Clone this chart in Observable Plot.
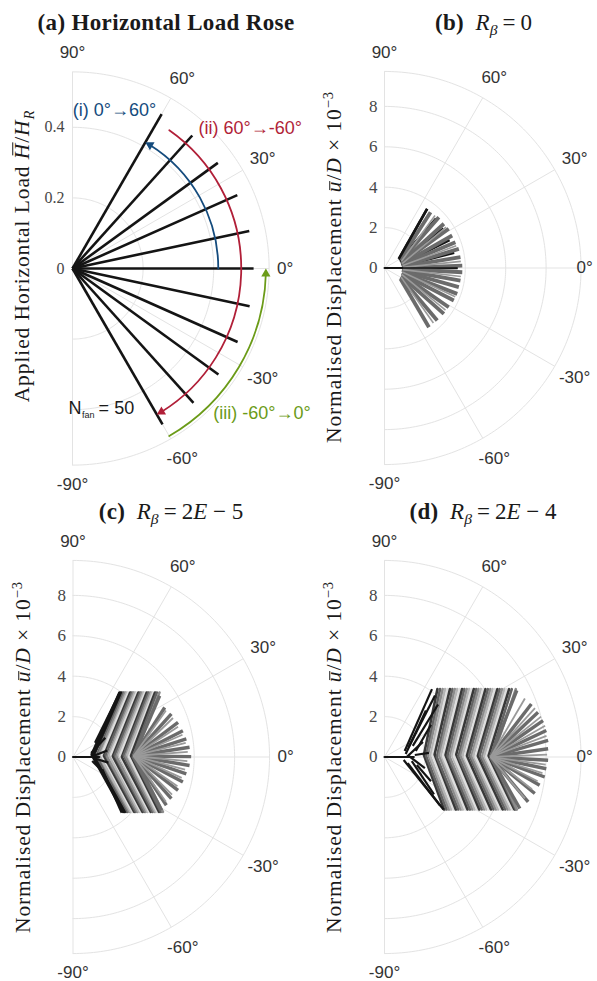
<!DOCTYPE html>
<html>
<head>
<meta charset="utf-8">
<script src="https://cdn.jsdelivr.net/npm/d3@7"></script>
<script src="https://cdn.jsdelivr.net/npm/@observablehq/plot@0.6"></script>
<style>
  html, body { margin: 0; padding: 0; background: #fff; }
  #page { position: relative; width: 597px; height: 981px; overflow: hidden; background: #fff; }
  .panel { position: absolute; }
  .panel svg { overflow: visible; background: transparent; }
  .title { position: absolute; font-family: "Liberation Serif", serif; font-size: 23px; line-height: 1; white-space: nowrap; transform: translateX(-50%); color: #1a1a1a; }
  .title b { letter-spacing: 0.35px; }
  .eq { margin: 0 0.22em; }
  .ylab { position: absolute; font-family: "Liberation Serif", serif; font-size: 21.5px; line-height: 1; white-space: nowrap; color: #1a1a1a; letter-spacing: 0.9px; transform: translate(-50%, -50%) rotate(-90deg); }
  sub { font-size: 0.68em; vertical-align: -0.32em; line-height: 0; }
  sup { font-size: 0.68em; vertical-align: 0.55em; line-height: 0; }
  .ovH, .ovU { position: relative; }
  .ovH::before { content: ""; position: absolute; left: 0.2em; right: -0.04em; top: 0.1em; border-top: 1.3px solid currentColor; }
  .ovU::before { content: ""; position: absolute; left: 0.1em; right: 0.02em; top: 0.33em; border-top: 1.3px solid currentColor; }
</style>
</head>
<body>
<div id="page"></div>
<script>
// ================= DATA =================
const angleTicks = [90, 60, 30, 0, -30, -60, -90];

// (a) Horizontal load rose
const loadAngle = [60, 48, 36, 24, 12, 0, -12, -24, -36, -48, -60];
const loadMag = [0.505, 0.507, 0.509, 0.511, 0.512, 0.513, 0.513, 0.512, 0.511, 0.512, 0.51];
const ticksA = [0, 0.2, 0.4];
const rMaxA = 0.557;
const sweepText = ["(i) 0°→60°", "(ii) 60°→-60°", "(iii) -60°→0°"];
const sweepStart = [0, 55, -60];
const sweepEnd = [60, -60, 0];
const sweepRadius = [0.413, 0.478, 0.548];
const nFan = 50;

// displacement roses (b)-(d), units of 1e-3
const ticksU = [0, 2, 4, 6, 8];
const rMaxU = 9.73;

// (b) R_beta = 0
const bInitX = [0, 0.88];
const bInitY = [0, 0];
const bFirstBaseX = [0.88, 0.86, 0.82, 0.78, 0.74, 0.71];
const bFirstBaseY = [0.0, 0.1, 0.2, 0.3, 0.38, 0.45];
const bFirstTipX = [3.62, 3.45, 3.22, 2.92, 2.55, 2.11];
const bFirstTipY = [0.0, 0.75, 1.38, 1.95, 2.45, 2.93];
const bBaseX = [0.78, 0.82, 0.86, 0.84, 0.88, 0.85, 0.9, 0.86, 0.88, 0.9, 0.86, 0.9, 0.87, 0.85, 0.88, 0.83, 0.81, 0.79];
const bBaseY = [0.42, 0.36, 0.3, 0.25, 0.2, 0.15, 0.1, 0.05, 0.0, -0.05, -0.1, -0.16, -0.22, -0.28, -0.34, -0.4, -0.47, -0.53];
const bTipX = [2.28, 2.69, 2.94, 3.18, 3.35, 3.51, 3.68, 3.76, 3.85, 3.85, 3.76, 3.68, 3.6, 3.43, 3.18, 2.94, 2.61, 2.2];
const bTipY = [2.76, 2.51, 2.19, 1.94, 1.61, 1.28, 0.95, 0.54, 0.12, -0.21, -0.62, -0.95, -1.28, -1.61, -1.94, -2.27, -2.6, -2.93];
const bLightBaseX = [0.84, 0.87, 0.9, 0.92, 0.9, 0.88, 0.85, 0.82];
const bLightBaseY = [0.33, 0.22, 0.12, 0.03, -0.08, -0.2, -0.32, -0.45];
const bLightTipX = [2.5, 3.05, 3.55, 3.78, 3.78, 3.5, 3.02, 2.42];
const bLightTipY = [2.6, 2.02, 1.1, 0.33, -0.42, -1.42, -2.08, -2.72];

// (c) R_beta = 2E-5
const cInitX = [0, 1.3];
const cInitY = [0, 0];
const cEarly = [[0.9, 0.2, 1.6, 0.95], [0.95, -0.2, 1.5, -0.75], [1.0, 0.05, 1.7, 0.32], [1.0, -0.05, 1.75, -0.28], [1.09, 0.71, 2.32, 3.19], [1.45, -0.61, 2.41, -2.76]];
const cTopY = 3.19;
const cBotY = -2.72;
const cChevMidX = [0.92, 1.0, 1.07, 1.17, 1.26, 1.34, 1.43, 1.53, 1.61, 1.7, 1.79, 1.89, 1.97, 2.06, 2.15, 2.25, 2.33, 2.42, 2.51, 2.6, 2.69, 2.78, 2.87, 2.96, 3.05];
const cChevMidY = [0.12, 0.08, 0.15, 0.05, 0.1, 0.02, 0.12, 0.06, 0.1, 0.0, 0.08, 0.12, 0.04, 0.09, 0.02, 0.1, 0.06, 0.0, 0.08, 0.04, 0.1, 0.02, 0.06, 0.0, 0.05];
const cChevTopX = [2.3, 2.36, 2.43, 2.5, 2.58, 2.66, 2.74, 2.83, 2.91, 2.99, 3.07, 3.16, 3.24, 3.32, 3.4, 3.49, 3.57, 3.65, 3.73, 3.82, 3.9, 3.98, 4.06, 4.15, 4.28];
const cChevBotX = [2.48, 2.55, 2.62, 2.7, 2.78, 2.86, 2.94, 3.03, 3.11, 3.19, 3.27, 3.36, 3.44, 3.52, 3.6, 3.69, 3.77, 3.85, 3.93, 4.02, 4.1, 4.18, 4.26, 4.35, 4.45];
const cBase = [3.0, 0.05];
const cTipX = [4.29, 4.54, 4.87, 5.2, 5.44, 5.61, 5.77, 5.85, 5.77, 5.61, 5.44, 5.2, 4.87, 4.62, 4.38];
const cTipY = [3.03, 2.45, 2.13, 1.71, 1.3, 0.9, 0.48, 0.02, -0.42, -0.83, -1.24, -1.65, -2.06, -2.39, -2.64];
const cLightTipX = [4.6, 4.95, 5.2, 5.42, 5.58, 5.68, 5.66, 5.55, 5.38, 5.17, 4.9, 4.6];
const cLightTipY = [2.3, 1.93, 1.5, 1.1, 0.7, 0.25, -0.2, -0.62, -1.03, -1.45, -1.86, -2.22];

// (d) R_beta = 2E-4
const dInitX = [0, 1.45];
const dInitY = [0, 0];
const dEarly = [[1.0, 0.3, 2.35, 3.36], [1.2, 0.5, 2.5, 3.05], [1.05, 0.15, 2.05, 2.3], [1.4, 0.55, 2.65, 2.6], [1.55, 0.3, 2.3, 1.6], [0.95, -0.15, 2.92, -2.6], [1.15, -0.3, 2.75, -2.4], [1.35, -0.2, 2.45, -1.85], [1.6, -0.4, 2.3, -1.2], [1.1, 0.0, 1.9, 0.75], [1.2, 0.05, 2.0, -0.55], [1.5, 0.1, 2.2, 0.2]];
const dTopY = 3.36;
const dBotY = -2.6;
const dChevMidX = [1.95, 2.06, 2.16, 2.27, 2.38, 2.48, 2.59, 2.7, 2.8, 2.91, 3.02, 3.12, 3.23, 3.34, 3.44, 3.55, 3.66, 3.76, 3.87, 3.98, 4.08, 4.19, 4.3, 4.4, 4.51, 4.62, 4.72, 4.83, 4.94, 5.04, 5.15, 5.26, 5.36];
const dChevMidY = [0.1, 0.05, 0.14, 0.02, 0.09, 0.12, 0.0, 0.08, 0.11, 0.03, 0.1, 0.06, 0.0, 0.09, 0.04, 0.12, 0.02, 0.07, 0.1, 0.0, 0.06, 0.11, 0.03, 0.08, 0.0, 0.05, 0.1, 0.02, 0.07, 0.0, 0.06, 0.03, 0.0];
const dChevTopX = [2.62, 2.75, 2.88, 3.0, 3.12, 3.24, 3.36, 3.48, 3.6, 3.72, 3.84, 3.95, 4.07, 4.19, 4.3, 4.42, 4.54, 4.65, 4.77, 4.89, 5.0, 5.12, 5.24, 5.35, 5.47, 5.59, 5.7, 5.82, 5.94, 6.05, 6.17, 6.3, 6.5];
const dChevBotX = [2.95, 3.07, 3.19, 3.3, 3.42, 3.53, 3.65, 3.77, 3.88, 4.0, 4.11, 4.23, 4.35, 4.46, 4.58, 4.69, 4.81, 4.93, 5.04, 5.16, 5.27, 5.39, 5.51, 5.62, 5.74, 5.85, 5.97, 6.09, 6.2, 6.32, 6.43, 6.5, 6.55];
const dBase = [5.25, 0.0];
const dTipX = [6.55, 7.27, 7.6, 7.85, 8.01, 8.1, 8.1, 8.1, 8.01, 7.93, 7.68, 7.44, 7.11, 6.7];
const dTipY = [3.3, 2.62, 2.21, 1.8, 1.31, 0.82, 0.41, -0.16, -0.58, -0.99, -1.4, -1.81, -2.22, -2.55];
const dLightTipX = [6.95, 7.45, 7.75, 7.95, 8.02, 8.05, 7.98, 7.82, 7.58, 7.3, 6.95];
const dLightTipY = [2.9, 2.42, 2.0, 1.55, 1.05, 0.12, -0.38, -0.8, -1.2, -1.6, -2.05];

// ================= DRAWING =================
const rad = Math.PI / 180;
const cosd = a => Math.cos(a * rad), sind = a => Math.sin(a * rad);
const SANS = "Liberation Sans, Arial, Helvetica, sans-serif";
const SERIF = "Liberation Serif, Times New Roman, serif";
const GRID = "#e3e3e3";
const page = document.getElementById("page");

function frame(w, h, cx, cy, k) {
  return {
    width: w, height: h, margin: 0,
    x: {type: "linear", domain: [-cx / k, (w - cx) / k], range: [0, w], axis: null},
    y: {type: "linear", domain: [-(h - cy) / k, cy / k], range: [h, 0], axis: null},
    style: {background: "transparent", overflow: "visible"}
  };
}

// zeroMaxPx: furthest distance (px from the pole) at which the "0°" label may start
function polarMarks(ticks, rMax, k, fmt, fs, tickDx, zeroMaxPx) {
  const R = rMax * k;
  const rings = ticks.filter(t => t > 0).concat([rMax]);
  const steps = d3.range(-90, 90.001, 1);
  const ringPts = rings.flatMap((r, i) => steps.map(a => ({r, a, i})));
  const labR = a => (Math.abs(a) === 90 ? R + 19 : R + 23) / k;
  const zeroPx = Math.min(R + 8, zeroMaxPx);
  return [
    Plot.line(ringPts, {x: d => d.r * cosd(d.a), y: d => d.r * sind(d.a), z: "i", stroke: GRID, strokeWidth: 1}),
    Plot.link(angleTicks, {x1: () => 0, y1: () => 0, x2: a => rMax * cosd(a), y2: a => rMax * sind(a), stroke: GRID, strokeWidth: 1}),
    Plot.text(ticks, {x: () => 0, y: d => d, text: fmt, textAnchor: "end", dx: tickDx, fontFamily: SERIF, fontSize: fs, fill: "#474747"}),
    Plot.text(angleTicks.filter(a => a !== 0), {x: a => labR(a) * cosd(a), y: a => labR(a) * sind(a), text: a => a + "°", textAnchor: "middle", fontFamily: SANS, fontSize: 17, fill: "#333"}),
    Plot.text([0], {x: () => zeroPx / k, y: () => 0, text: () => "0°", textAnchor: "start", fontFamily: SANS, fontSize: 17, fill: "#333"})
  ];
}

function links(bx, by, tx, ty, opts) {
  return Plot.link(d3.range(tx.length), {
    x1: i => Array.isArray(bx) ? bx[i] : bx,
    y1: i => Array.isArray(by) ? by[i] : by,
    x2: i => tx[i], y2: i => ty[i],
    strokeLinecap: "butt", ...opts
  });
}
function segs(list, opts) {
  return Plot.link(list, {x1: d => d[0], y1: d => d[1], x2: d => d[2], y2: d => d[3], strokeLinecap: "butt", ...opts});
}
function chevrons(midX, midY, topX, botX, topY, botY) {
  return midX.flatMap((m, i) => [
    {i, x: topX[i], y: topY}, {i, x: m, y: midY[i]}, {i, x: botX[i], y: botY}
  ]);
}

function place(node, left, top) {
  const d = document.createElement("div");
  d.className = "panel"; d.style.left = left + "px"; d.style.top = top + "px";
  d.appendChild(node); page.appendChild(d);
}
function html(cls, left, top, inner) {
  const d = document.createElement("div");
  d.className = cls; d.style.left = left + "px"; d.style.top = top + "px";
  d.innerHTML = inner; page.appendChild(d);
}

// ---------- (a) ----------
const kA = 353;
const sweepColor = ["#144b7d", "#b11f38", "#6b9b18"];
const sweepMarks = sweepText.flatMap((t, i) => {
  const s = sweepStart[i], e = sweepEnd[i], r = sweepRadius[i], dir = Math.sign(e - s);
  const back = (5.3 / (r * kA)) / rad;
  const eArc = e - dir * back * 0.9;
  const eDot = e - dir * back;
  return [
    Plot.arrow([i], {x1: () => r * cosd(s), y1: () => r * sind(s), x2: () => r * cosd(eArc), y2: () => r * sind(eArc),
      bend: (s - eArc) / 2, stroke: sweepColor[i], strokeWidth: 1.8, headLength: 0}),
    Plot.dot([i], {x: () => r * cosd(eDot), y: () => r * sind(eDot), symbol: "triangle2", r: 4.4,
      fill: sweepColor[i], stroke: "none", rotate: 90 - (e + dir * 90)})
  ];
});
const annot = {fontFamily: SANS, fontSize: 18};
const plotA = Plot.plot({
  ...frame(300, 490, 72, 268, kA),
  marks: [
    ...polarMarks(ticksA, rMaxA, kA, d => d === 0 ? "0" : d.toFixed(1), 16, -8, 999),
    Plot.link(loadAngle, {x1: () => 0, y1: () => 0, x2: (a, i) => loadMag[i] * cosd(a), y2: (a, i) => loadMag[i] * sind(a),
      stroke: "#141414", strokeWidth: 2.6, strokeLinecap: "butt"}),
    ...sweepMarks,
    Plot.text([sweepText[0]], {x: () => 0.119, y: () => 0.448, text: d => d, textAnchor: "middle", fill: sweepColor[0], ...annot}),
    Plot.text([sweepText[1]], {x: () => 0.357, y: () => 0.397, text: d => d, textAnchor: "start", fill: sweepColor[1], ...annot}),
    Plot.text([sweepText[2]], {x: () => 0.399, y: () => -0.411, text: d => d, textAnchor: "start", fill: sweepColor[2], ...annot}),
    Plot.text(["N"], {x: () => -0.011, y: () => -0.397, text: d => d, textAnchor: "start", fill: "#1a1a1a", ...annot}),
    Plot.text(["fan"], {x: () => 0.027, y: () => -0.414, text: d => d, textAnchor: "start", fill: "#1a1a1a", fontFamily: SANS, fontSize: 9}),
    Plot.text([`= ${nFan}`], {x: () => 0.074, y: () => -0.397, text: d => d, textAnchor: "start", fill: "#1a1a1a", ...annot})
  ]
});

// ---------- (b) ----------
const kU = 20.2;
const GRAY = "#6b6b6b", LIGHT = "#9a9a9a", BLACK = "#141414";
const plotB = Plot.plot({
  ...frame(297, 490, 84, 267.5, kU),
  marks: [
    ...polarMarks(ticksU, rMaxU, kU, d => String(d), 17, -7, 192),
    links(bFirstBaseX, bFirstBaseY, bFirstTipX, bFirstTipY, {stroke: BLACK, strokeWidth: 2.6}),
    links(bBaseX, bBaseY, bTipX, bTipY, {stroke: GRAY, strokeWidth: 3.8}),
    links(bLightBaseX, bLightBaseY, bLightTipX, bLightTipY, {stroke: LIGHT, strokeWidth: 1.6}),
    Plot.line(bInitX.map((x, i) => [x, bInitY[i]]), {x: d => d[0], y: d => d[1], stroke: BLACK, strokeWidth: 2}),
    links([bFirstBaseX[0]], [bFirstBaseY[0]], [bFirstTipX[0]], [bFirstTipY[0]], {stroke: BLACK, strokeWidth: 1.4}),
    links([bFirstBaseX[5]], [bFirstBaseY[5]], [bFirstTipX[5]], [bFirstTipY[5]], {stroke: BLACK, strokeWidth: 2.6})
  ]
});

// ---------- (c), (d) ----------
function displacementPanel(w, h, cx, cy, zeroMax, init, early, chev, nBlack, base, tipX, tipY, lightX, lightY) {
  return Plot.plot({
    ...frame(w, h, cx, cy, kU),
    color: {type: "linear", domain: [0, 4], range: ["#383838", "#dedede"]},
    marks: [
      ...polarMarks(ticksU, rMaxU, kU, d => String(d), 17, -7, zeroMax),
      Plot.line(chev.filter(d => d.i >= nBlack), {x: "x", y: "y", z: "i", stroke: d => (d.i - nBlack) % 5, strokeWidth: 2.6, strokeLinejoin: "miter"}),
      Plot.line(chev.filter(d => d.i < nBlack), {x: "x", y: "y", z: "i", stroke: BLACK, strokeWidth: 2.6, strokeLinejoin: "miter"}),
      segs(early, {stroke: BLACK, strokeWidth: 2.2}),
      links(base[0], base[1], tipX, tipY, {stroke: GRAY, strokeWidth: 3.4}),
      links(base[0], base[1], lightX, lightY, {stroke: LIGHT, strokeWidth: 1.8}),
      Plot.line(init[0].map((x, i) => [x, init[1][i]]), {x: d => d[0], y: d => d[1], stroke: BLACK, strokeWidth: 2.2})
    ]
  });
}
const plotC = displacementPanel(300, 491, 72.5, 266.5, 999, [cInitX, cInitY], cEarly,
  chevrons(cChevMidX, cChevMidY, cChevTopX, cChevBotX, cTopY, cBotY), 2, cBase, cTipX, cTipY, cLightTipX, cLightTipY);
const plotD = displacementPanel(297, 491, 84, 266.5, 192, [dInitX, dInitY], dEarly,
  chevrons(dChevMidX, dChevMidY, dChevTopX, dChevBotX, dTopY, dBotY), 0, dBase, dTipX, dTipY, dLightTipX, dLightTipY);

place(plotA, 0, 0);
place(plotB, 300, 0);
place(plotC, 0, 490);
place(plotD, 300, 490);

// titles and axis labels
const rb = '<i>R</i><sub><i>β</i></sub>';
const eq = '<span class="eq">=</span>';
html("title", 166, 11, '<b>(a) Horizontal Load Rose</b>');
html("title", 483.5, 11, `<b>(b)</b>&ensp;${rb}${eq}0`);
html("title", 171, 500, `<b>(c)</b>&ensp;${rb}${eq}2<i>E</i> − 5`);
html("title", 483, 500, `<b>(d)</b>&ensp;${rb}${eq}2<i>E</i> − 4`);
const uLab = 'Normalised Displacement <i class="ovU">u</i>/<i>D</i> × 10<sup>−3</sup>';
html("ylab", 23, 256, 'Applied Horizontal Load <i class="ovH">H</i>/<i>H</i><sub><i>R</i></sub>');
html("ylab", 335, 267, uLab);
html("ylab", 23.5, 757, uLab);
html("ylab", 335, 757, uLab);
</script>
</body>
</html>
